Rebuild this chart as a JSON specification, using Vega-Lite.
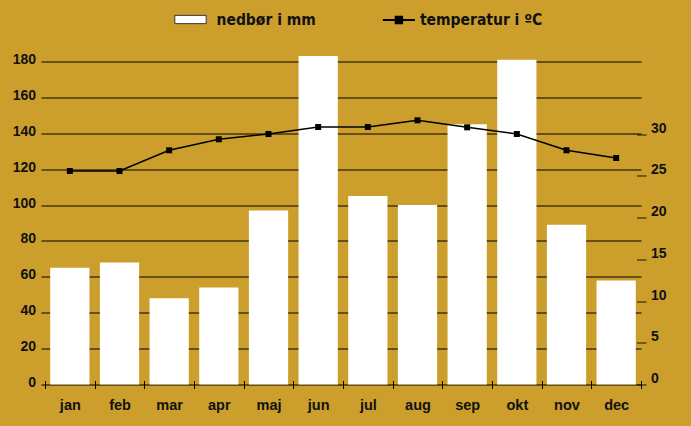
{
  "$schema": "https://vega.github.io/schema/vega-lite/v6.json",
  "autosize": {"type": "none"},
  "padding": {"left": 45, "top": 43.5, "right": 50, "bottom": 41.5},
  "width": 596,
  "height": 341,
  "background": "#CC9E2B",
  "config": {
    "view": {"stroke": null},
    "axis": {"labelFont": "Liberation Sans", "labelFontWeight": "bold", "labelColor": "#111111", "labelFontSize": 14, "title": null},
    "legend": {"labelFont": "DejaVu Sans Condensed", "labelFontWeight": "bold", "labelColor": "#111111", "labelFontSize": 15.5, "padding": 0}
  },
  "data": {
    "values": [
      {"month": "jan", "nedbor": 65, "temp": 25.57},
      {"month": "feb", "nedbor": 68, "temp": 25.57},
      {"month": "mar", "nedbor": 48, "temp": 28.05},
      {"month": "apr", "nedbor": 54, "temp": 29.37},
      {"month": "maj", "nedbor": 97, "temp": 30.0},
      {"month": "jun", "nedbor": 183, "temp": 30.84},
      {"month": "jul", "nedbor": 105, "temp": 30.84},
      {"month": "aug", "nedbor": 100, "temp": 31.64},
      {"month": "sep", "nedbor": 145, "temp": 30.8},
      {"month": "okt", "nedbor": 181, "temp": 30.0},
      {"month": "nov", "nedbor": 89, "temp": 28.05},
      {"month": "dec", "nedbor": 58, "temp": 27.13}
    ]
  },
  "encoding": {
    "x": {
      "field": "month", "type": "nominal", "sort": null,
      "scale": {"paddingInner": 0, "paddingOuter": 0},
      "axis": {"orient": "bottom", "labelAngle": 0, "domain": false, "offset": -4, "tickSize": 8, "tickColor": "#000000", "tickWidth": 1, "tickBand": "extent", "labelBaseline": "alphabetic", "labelPadding": 21, "labelFontSize": 14.5, "zindex": 1}
    }
  },
  "layer": [
    {
      "mark": {"type": "bar", "width": {"band": 0.79}},
      "encoding": {
        "y": {
          "field": "nedbor", "type": "quantitative",
          "scale": {"domain": [0, 190], "nice": false},
          "axis": {"values": [0, 20, 40, 60, 80, 100, 120, 140, 160, 180], "grid": true, "gridColor": "#000000", "gridWidth": 1, "gridOpacity": 1, "domain": false, "tickSize": 4, "tickColor": "#000000", "labelPadding": 5.5, "labelBaseline": "alphabetic", "labelOffset": 2}
        },
        "fill": {
          "datum": "nedbør i mm", "type": "nominal",
          "scale": {"range": ["#FFFFFF"]},
          "legend": {"orient": "none", "legendX": 135, "legendY": -34.5, "title": null, "symbolType": "M-1.57,-0.415H1.57V0.415H-1.57Z", "symbolSize": 400, "symbolStrokeColor": "#333333", "symbolStrokeWidth": 1, "labelOffset": 15.5}
        }
      }
    },
    {
      "mark": {"type": "line", "strokeWidth": 1.5},
      "encoding": {
        "y": {
          "field": "temp", "type": "quantitative",
          "scale": {"domain": [0, 40.84], "nice": false},
          "axis": {"orient": "right", "values": [0, 5, 10, 15, 20, 25, 30], "grid": false, "domain": false, "offset": -4.5, "tickSize": 9.5, "tickColor": "#1a1405", "labelPadding": 4.5, "labelAlign": "left", "labelBaseline": "alphabetic", "labelOffset": -2}
        },
        "stroke": {
          "datum": "temperatur i ºC", "type": "nominal",
          "scale": {"range": ["#000000"]},
          "legend": {"orient": "none", "legendX": 342.9, "legendY": -34.5, "title": null, "symbolType": "M-1.61,0H1.61M-0.32,-0.32H0.32V0.32H-0.32Z", "symbolSize": 400, "symbolFillColor": "#000000", "symbolStrokeWidth": 2, "labelOffset": 10}
        }
      }
    },
    {
      "mark": {"type": "point", "shape": "square", "size": 36, "filled": true, "color": "#000000", "opacity": 1},
      "encoding": {
        "y": {"field": "temp", "type": "quantitative", "scale": {"domain": [0, 40.84], "nice": false}, "axis": null}
      }
    }
  ],
  "resolve": {"scale": {"y": "independent"}, "axis": {"y": "independent"}}
}
